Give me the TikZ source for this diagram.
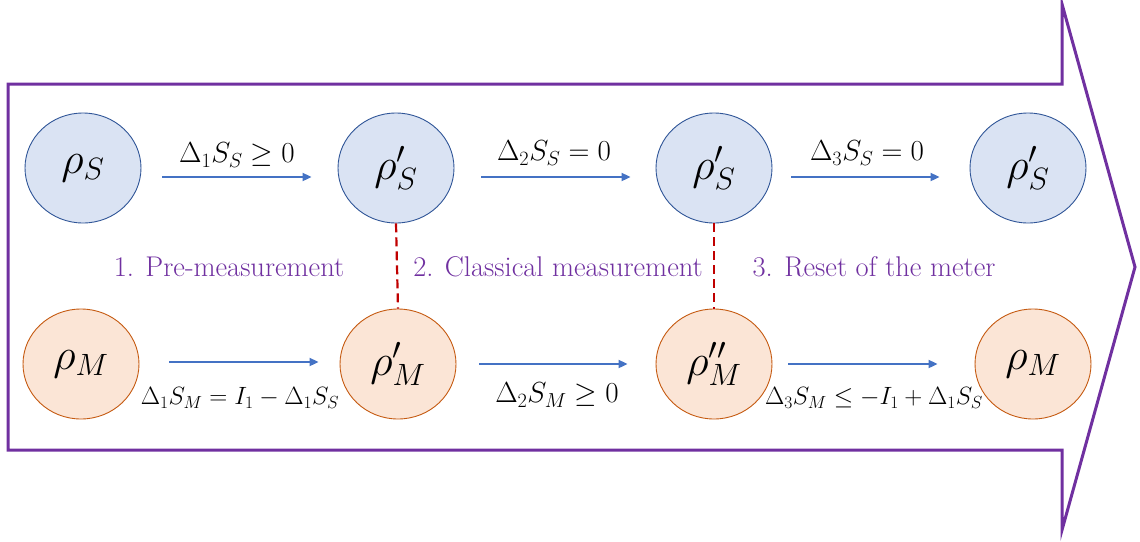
\documentclass[tikz,border=0pt]{standalone}
\usepackage{fix-cm}
\usepackage{fontspec}
\usetikzlibrary{shapes.geometric,arrows.meta}
\definecolor{sysfill}{HTML}{DAE3F3}
\definecolor{sysdraw}{HTML}{2F5597}
\definecolor{metfill}{HTML}{FBE5D6}
\definecolor{metdraw}{HTML}{C55A11}
\definecolor{flowblue}{HTML}{4472C4}
\definecolor{purp}{HTML}{7030A0}
\definecolor{dred}{HTML}{C00000}
\tikzset{
  statebox/.style={ellipse, minimum width=116pt, minimum height=110pt, inner sep=0pt, line width=0.9pt, font=\fontsize{44}{52}\selectfont},
  sys/.style={statebox, fill=sysfill, draw=sysdraw},
  met/.style={statebox, fill=metfill, draw=metdraw},
  flow/.style={draw=flowblue, line width=2pt, -{Triangle[length=9pt,width=8pt]}},
  toplab/.style={font=\fontsize{29}{34}\selectfont, inner sep=0pt},
  botlab/.style={font=\fontsize{25}{30}\selectfont, inner sep=0pt},
  phase/.style={text=purp, font=\fontsize{28.5}{33}\selectfont, inner sep=0pt},
  link/.style={draw=dred, line width=2.2pt, dash pattern=on 9pt off 5pt},
  outl/.style={draw=purp, line width=3pt}
}
\begin{document}
\begin{tikzpicture}[x=1pt,y=-1pt]
\useasboundingbox (0,0) rectangle (1140,541);
\draw[outl] (8,84) -- (1062,84) -- (1062,4) -- (1135,267) -- (1062,530) -- (1062,450) -- (8,450) -- cycle;

\node[sys] (s1) at (83,168) {$\rho_S$};
\node[sys] (s2) at (396,168) {$\rho'_S$};
\node[sys] (s3) at (714,168) {$\rho'_S$};
\node[sys] (s4) at (1028,168) {$\rho'_S$};
\node[met] (m1) at (81,364) {$\rho_M$};
\node[met] (m2) at (398,364) {$\rho'_M$};
\node[met] (m3) at (714,364) {$\rho''_M$};
\node[met] (m4) at (1033,364) {$\rho_M$};

\draw[link] (s2.south) -- (m2.north);
\draw[link] (s3.south) -- (m3.north);

\draw[flow, shorten <=21pt, shorten >=26pt] ([yshift=-9pt]s1.east) -- ([yshift=-9pt]s2.west);
\draw[flow, shorten <=27pt, shorten >=25pt] ([yshift=-9pt]s2.east) -- ([yshift=-9pt]s3.west);
\draw[flow, shorten <=19pt, shorten >=30pt] ([yshift=-9pt]s3.east) -- ([yshift=-9pt]s4.west);
\draw[flow, shorten <=30pt, shorten >=21pt] ([yshift=2pt]m1.east) -- ([yshift=2pt]m2.west);
\draw[flow, shorten <=23pt, shorten >=28pt] (m2.east) -- (m3.west);
\draw[flow, shorten <=16pt, shorten >=37pt] (m3.east) -- (m4.west);

\node[toplab] (t1) at (237,155) {$\Delta_1 S_S \geq 0$};
\node[toplab] (t2) at (554,153) {$\Delta_2 S_S = 0$};
\node[toplab] (t3) at (867,153) {$\Delta_3 S_S = 0$};
\node[botlab] (b1) at (240,398) {$\Delta_1 S_M = I_1 - \Delta_1 S_S$};
\node[toplab] (b2) at (557,395) {$\Delta_2 S_M \geq 0$};
\node[botlab] (b3) at (874,398) {$\Delta_3 S_M \leq -I_1 + \Delta_1 S_S$};

\node[phase] (p1) at (229,267) {1. Pre-measurement};
\node[phase] (p2) at (558,267) {2. Classical measurement};
\node[phase] (p3) at (874,267) {3. Reset of the meter};
\end{tikzpicture}
\end{document}
